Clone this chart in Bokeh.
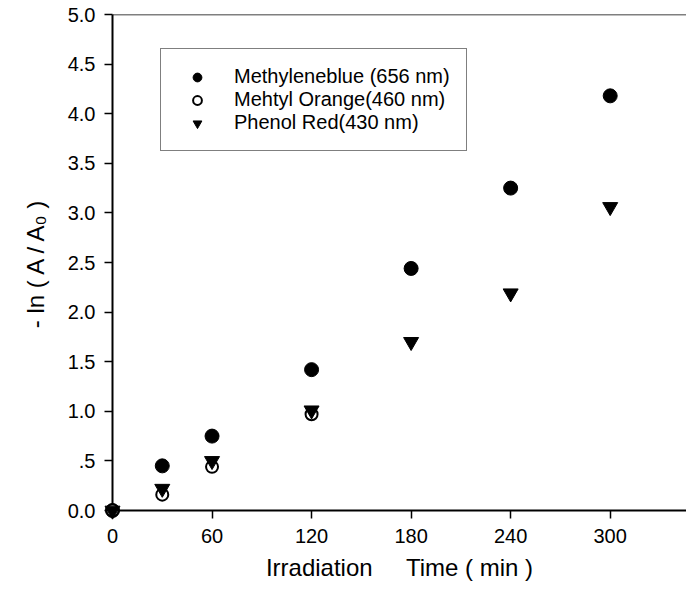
from bokeh.plotting import figure
from bokeh.models import Range1d, Span, Legend, LegendItem, FixedTicker
from bokeh.embed import file_html
from bokeh.resources import INLINE

# Data
time_mb = [0, 30, 60, 120, 180, 240, 300]
methylene_blue = [0.0, 0.45, 0.75, 1.42, 2.44, 3.25, 4.18]

time_mo = [0, 30, 60, 120]
methyl_orange = [0.0, 0.16, 0.44, 0.97]

time_pr = [0, 30, 60, 120, 180, 240, 300]
phenol_red = [0.0, 0.22, 0.50, 1.01, 1.70, 2.19, 3.06]

x_ticks = [0, 60, 120, 180, 240, 300]
y_ticks = [0.0, 0.5, 1.0, 1.5, 2.0, 2.5, 3.0, 3.5, 4.0, 4.5, 5.0]
y_tick_labels = {0.0: "0.0", 0.5: ".5", 1.0: "1.0", 1.5: "1.5", 2.0: "2.0", 2.5: "2.5",
                 3.0: "3.0", 3.5: "3.5", 4.0: "4.0", 4.5: "4.5", 5.0: "5.0"}

labels = ["Methyleneblue (656 nm)", "Mehtyl Orange(460 nm)", "Phenol Red(430 nm)"]

FONT = "Liberation Sans"

p = figure(width=686, height=594, output_backend="svg", toolbar_location=None,
           x_range=Range1d(0, 346), y_range=Range1d(0, 5),
           min_border_left=112, min_border_top=14, min_border_bottom=84, min_border_right=0)
p.outline_line_color = None
p.xgrid.visible = False
p.ygrid.visible = False
p.background_fill_color = "white"
p.border_fill_color = "white"

# top frame line
p.add_layout(Span(location=5, dimension="width", line_color="black", line_width=1.5))

for ax in (p.xaxis[0], p.yaxis[0]):
    ax.axis_line_width = 2
    ax.axis_line_color = "black"
    ax.major_tick_line_width = 1.5
    ax.major_tick_out = 8
    ax.major_tick_in = 0
    ax.minor_tick_line_color = None
    ax.major_label_text_font = FONT
    ax.major_label_text_font_size = "20px"
    ax.major_label_text_color = "black"
    ax.axis_label_text_font = FONT
    ax.axis_label_text_font_size = "24px"
    ax.axis_label_text_font_style = "normal"
    ax.axis_label_text_color = "black"

p.xaxis.ticker = FixedTicker(ticks=x_ticks)
p.yaxis.ticker = FixedTicker(ticks=y_ticks)
p.yaxis.major_label_overrides = y_tick_labels
p.xaxis.major_label_standoff = 10
p.yaxis.major_label_standoff = 9
p.xaxis.axis_label = "Irradiation\u00a0\u00a0\u00a0\u00a0\u00a0Time ( min )"
p.yaxis.axis_label = "- ln ( A / A\u2080 )"
p.xaxis.axis_label_standoff = 8
p.yaxis.axis_label_standoff = 16

r1 = p.scatter(time_mb, methylene_blue, marker="circle", size=14,
               fill_color="black", line_color="black", level="overlay")
r2 = p.scatter(time_mo, methyl_orange, marker="circle", size=12,
               fill_color="white", line_color="black", line_width=2, level="overlay")
r3 = p.scatter(time_pr, phenol_red, marker="inverted_triangle", size=15,
               fill_color="black", line_color="black", level="overlay")

legend = Legend(items=[LegendItem(label=labels[0], renderers=[r1]),
                       LegendItem(label=labels[1], renderers=[r2]),
                       LegendItem(label=labels[2], renderers=[r3])],
                location=(48, 359), padding=16, margin=0, spacing=0,
                glyph_width=40, glyph_height=22, label_height=22, label_standoff=17,
                label_text_font=FONT, label_text_font_size="20px", label_text_color="black",
                border_line_color="black", border_line_width=1.5,
                background_fill_alpha=1.0, background_fill_color="white")
p.add_layout(legend)

open("out.html", "w").write(file_html(p, INLINE))
